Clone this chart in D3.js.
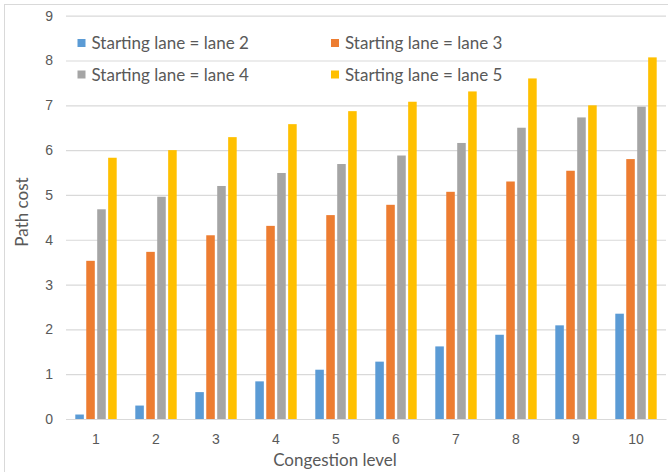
<!DOCTYPE html>
<html><head><meta charset="utf-8">
<script src="https://cdn.jsdelivr.net/npm/d3@7"></script>
<style>body{margin:0;background:#fff;} svg{display:block;font-family:Lato,"Open Sans",sans-serif;}</style>
</head><body>
<svg id="c" width="668" height="472"></svg>
<script>
const categories = ["1","2","3","4","5","6","7","8","9","10"];
const seriesNames = ["Starting lane = lane 2","Starting lane = lane 3","Starting lane = lane 4","Starting lane = lane 5"];
const lane2 = [0.1,0.3,0.6,0.84,1.1,1.28,1.62,1.88,2.09,2.35];
const lane3 = [3.53,3.73,4.1,4.31,4.55,4.78,5.07,5.3,5.54,5.8];
const lane4 = [4.68,4.96,5.2,5.49,5.69,5.88,6.16,6.5,6.73,6.97];
const lane5 = [5.83,6.0,6.29,6.58,6.87,7.08,7.31,7.6,7.0,8.07];
const yTicks = [0,1,2,3,4,5,6,7,8,9];
const colors = ["#5B9BD5","#ED7D31","#A5A5A5","#FFC000"];
const seriesValues = [lane2,lane3,lane4,lane5];

const svg = d3.select("#c");
const pL = 66, pR = 666, pT = 15.7, pB = 419;
const x0 = d3.scaleBand().domain(categories).range([pL,pR]).paddingInner(0.31).paddingOuter(0.155);
const x1 = d3.scaleBand().domain(d3.range(4)).range([0,x0.bandwidth()]).paddingInner(0.22);
const y = d3.scaleLinear().domain([0,9]).range([pB,pT]);

// outer border
svg.append("rect").attr("x",4.5).attr("y",4.5).attr("width",700).attr("height",500)
  .attr("fill","none").attr("stroke","#d9d9d9").attr("stroke-width",1);

// gridlines
const yAxis = d3.axisLeft(y).tickValues(yTicks).tickSize(-(pR-pL)).tickPadding(9).tickFormat(d3.format("d"));
const gy = svg.append("g").attr("transform",`translate(${pL},0)`).call(yAxis);
gy.select(".domain").remove();
gy.selectAll(".tick line").attr("stroke","#d9d9d9").attr("stroke-width",1.2);
gy.selectAll(".tick text").attr("fill","#595959").style("font-size","14px").attr("x",-13);

// bars
categories.forEach((c,i)=>{
  seriesValues.forEach((vals,s)=>{
    svg.append("rect")
      .attr("x",x0(c)+x1(s)).attr("width",x1.bandwidth())
      .attr("y",y(vals[i])).attr("height",y(0)-y(vals[i]))
      .attr("fill",colors[s]);
  });
});

// x axis
const xAxis = d3.axisBottom(x0).tickSize(0).tickPadding(15);
const gx = svg.append("g").attr("transform",`translate(0,${pB})`).call(xAxis);
gx.select(".domain").attr("stroke","#d9d9d9").attr("stroke-width",1.2);
gx.selectAll(".tick text").attr("fill","#595959").style("font-size","14px");

// axis titles
svg.append("text").attr("x",335).attr("y",466).attr("text-anchor","middle")
  .attr("fill","#595959").style("font-size","17px").text("Congestion level");
svg.append("text").attr("transform","translate(28,212) rotate(-90)").attr("text-anchor","middle")
  .attr("fill","#595959").style("font-size","17px").text("Path cost");

// legend
const legPos = [[77.5,43],[331,43],[77.5,74.5],[331,74.5]];
seriesNames.forEach((n,s)=>{
  const g = svg.append("g").attr("transform",`translate(${legPos[s][0]},${legPos[s][1]})`);
  g.append("rect").attr("x",0).attr("y",-4).attr("width",8).attr("height",8).attr("fill",colors[s]);
  g.append("text").attr("x",14).attr("y",6).attr("fill","#595959").style("font-size","17px").text(n);
});
</script>
</body></html>
